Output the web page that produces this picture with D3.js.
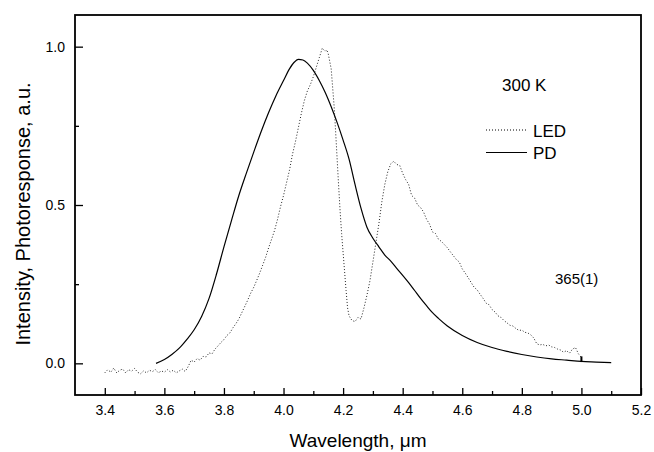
<!DOCTYPE html>
<html>
<head>
<meta charset="utf-8">
<script src="https://cdn.jsdelivr.net/npm/d3@7"></script>
<style>
  body { margin: 0; background: #fff; }
  svg { display: block; font-family: "Liberation Sans", Arial, sans-serif; }
</style>
</head>
<body>
<svg id="chart" width="654" height="452"></svg>
<script>
// LED emission spectrum (dotted), [wavelength um, intensity]
const ledData = [
  [3.40,-0.030],[3.41,-0.020],[3.42,-0.028],[3.43,-0.015],[3.44,-0.030],[3.45,-0.022],
  [3.46,-0.018],[3.47,-0.030],[3.48,-0.020],[3.49,-0.025],[3.50,-0.016],[3.51,-0.028],
  [3.52,-0.033],[3.53,-0.024],[3.54,-0.030],[3.55,-0.022],[3.56,-0.026],[3.57,-0.020],
  [3.58,-0.030],[3.59,-0.024],[3.60,-0.028],[3.61,-0.020],[3.62,-0.027],[3.63,-0.022],
  [3.64,-0.030],[3.65,-0.024],[3.66,-0.018],[3.67,-0.026],[3.68,-0.010],[3.69,0.010],
  [3.70,0.004],[3.71,0.015],[3.72,0.010],[3.73,0.022],[3.74,0.020],[3.75,0.033],
  [3.76,0.030],[3.77,0.045],[3.78,0.055],[3.79,0.066],[3.80,0.075],[3.81,0.088],
  [3.82,0.096],[3.83,0.112],[3.84,0.125],[3.85,0.140],[3.86,0.160],[3.87,0.180],
  [3.88,0.200],[3.89,0.222],[3.90,0.240],[3.91,0.262],[3.92,0.285],[3.93,0.310],
  [3.94,0.335],[3.95,0.365],[3.96,0.392],[3.97,0.420],[3.98,0.455],[3.99,0.495],
  [4.00,0.530],[4.01,0.570],[4.02,0.610],[4.03,0.660],[4.04,0.700],[4.05,0.745],
  [4.06,0.790],[4.07,0.830],[4.08,0.860],[4.09,0.880],[4.10,0.905],[4.11,0.935],
  [4.12,0.965],[4.13,0.995],[4.14,0.985],[4.145,0.990],[4.15,0.978],[4.16,0.930],
  [4.165,0.870],[4.17,0.810],[4.175,0.730],[4.18,0.645],[4.185,0.560],[4.19,0.480],
  [4.195,0.410],[4.20,0.350],[4.205,0.290],[4.21,0.230],[4.215,0.175],[4.22,0.150],
  [4.23,0.135],[4.24,0.132],[4.25,0.145],[4.26,0.140],[4.27,0.175],[4.28,0.215],
  [4.29,0.260],[4.30,0.320],[4.31,0.380],[4.32,0.440],[4.33,0.510],[4.34,0.565],
  [4.35,0.605],[4.36,0.630],[4.37,0.638],[4.38,0.628],[4.39,0.625],[4.40,0.600],
  [4.41,0.580],[4.42,0.565],[4.43,0.530],[4.44,0.522],[4.45,0.500],[4.46,0.492],
  [4.47,0.478],[4.48,0.455],[4.49,0.440],[4.50,0.415],[4.51,0.410],[4.52,0.392],
  [4.53,0.385],[4.54,0.375],[4.55,0.365],[4.56,0.352],[4.57,0.340],[4.58,0.328],
  [4.59,0.320],[4.60,0.298],[4.61,0.285],[4.62,0.270],[4.63,0.255],[4.64,0.240],
  [4.65,0.232],[4.66,0.218],[4.67,0.205],[4.68,0.190],[4.69,0.185],[4.70,0.170],
  [4.71,0.162],[4.72,0.150],[4.73,0.145],[4.74,0.135],[4.75,0.128],[4.76,0.120],
  [4.77,0.118],[4.78,0.110],[4.79,0.104],[4.80,0.105],[4.81,0.098],[4.82,0.096],
  [4.83,0.090],[4.84,0.080],[4.85,0.062],[4.86,0.058],[4.87,0.060],[4.88,0.055],
  [4.89,0.058],[4.90,0.052],[4.91,0.050],[4.92,0.045],[4.93,0.042],[4.94,0.035],
  [4.95,0.040],[4.96,0.032],[4.97,0.045],[4.98,0.050],[4.99,0.030],[5.00,0.018]
];

// Photodiode response (solid)
const pdData = [
  [3.572,0.000],[3.60,0.012],[3.625,0.028],[3.65,0.048],[3.675,0.075],[3.70,0.106],
  [3.725,0.148],[3.75,0.205],[3.775,0.282],[3.80,0.368],[3.825,0.450],[3.85,0.530],
  [3.875,0.600],[3.90,0.667],[3.925,0.732],[3.95,0.792],[3.975,0.846],[4.00,0.893],
  [4.02,0.930],[4.035,0.950],[4.05,0.960],[4.065,0.958],[4.08,0.948],[4.10,0.925],
  [4.12,0.893],[4.14,0.855],[4.16,0.810],[4.18,0.760],[4.20,0.705],[4.22,0.645],
  [4.24,0.565],[4.26,0.490],[4.28,0.430],[4.30,0.395],[4.32,0.368],[4.34,0.342],
  [4.36,0.323],[4.38,0.300],[4.40,0.278],[4.42,0.255],[4.44,0.230],[4.46,0.205],
  [4.48,0.182],[4.50,0.160],[4.52,0.142],[4.55,0.118],[4.60,0.088],[4.65,0.066],
  [4.70,0.050],[4.75,0.038],[4.80,0.028],[4.85,0.020],[4.90,0.014],[4.95,0.010],
  [5.00,0.006],[5.05,0.004],[5.10,0.002]
];

// short solid end mark of the LED trace: [x, y0, y1]
const ledEndMark = [5.0, 0.004, 0.022];

const xDomain = [3.3, 5.2];
const yDomain = [-0.1, 1.1];
const xMajor = [3.4, 3.6, 3.8, 4.0, 4.2, 4.4, 4.6, 4.8, 5.0, 5.2];
const xMinor = [3.5, 3.7, 3.9, 4.1, 4.3, 4.5, 4.7, 4.9, 5.1];
const yMajor = [0.0, 0.5, 1.0];
const yMinor = [0.25, 0.75];
const seriesLabels = ["LED", "PD"];
const tempLabel = "300 K";
const sampleLabel = "365(1)";

const svg = d3.select("#chart");
const margin = { top: 15, right: 13, bottom: 57, left: 75 };
const W = 654, H = 452;
const innerW = W - margin.left - margin.right;
const innerH = H - margin.top - margin.bottom;
const g = svg.append("g").attr("transform", `translate(${margin.left}, ${margin.top})`);

const x = d3.scaleLinear().domain(xDomain).range([0, innerW]);
const y = d3.scaleLinear().domain(yDomain).range([innerH, 0]);

// axes with inward ticks
const styleAxis = sel => {
  sel.select(".domain").remove();
  sel.selectAll("line").attr("stroke", "#000").attr("stroke-width", 1.3);
  sel.selectAll("text").attr("fill", "#000").style("font-size", "14px")
    .style("font-family", "'Liberation Sans', Arial, sans-serif");
};

g.append("g").attr("transform", `translate(0, ${innerH})`)
  .call(d3.axisBottom(x).tickValues(xMajor).tickSize(-7).tickPadding(10).tickFormat(d3.format(".1f")))
  .call(styleAxis);
g.append("g").attr("transform", `translate(0, ${innerH})`)
  .call(d3.axisBottom(x).tickValues(xMinor).tickSize(-4).tickFormat(""))
  .call(styleAxis);
g.append("g")
  .call(d3.axisLeft(y).tickValues(yMajor).tickSize(-8).tickPadding(10).tickFormat(d3.format(".1f")))
  .call(styleAxis);
g.append("g")
  .call(d3.axisLeft(y).tickValues(yMinor).tickSize(-4).tickFormat(""))
  .call(styleAxis);

// frame
g.append("rect")
  .attr("x", 0).attr("y", 0).attr("width", innerW).attr("height", innerH)
  .attr("fill", "none").attr("stroke", "#000").attr("stroke-width", 1.8);

const line = d3.line().x(d => x(d[0])).y(d => y(d[1]));
const smoothLine = d3.line().curve(d3.curveMonotoneX).x(d => x(d[0])).y(d => y(d[1]));

g.append("path").datum(pdData)
  .attr("d", smoothLine)
  .attr("fill", "none").attr("stroke", "#000").attr("stroke-width", 1.2);

g.append("path").datum(ledData)
  .attr("d", line)
  .attr("fill", "none").attr("stroke", "#222").attr("stroke-width", 1)
  .attr("stroke-dasharray", "1,2");

g.append("line")
  .attr("x1", x(ledEndMark[0])).attr("x2", x(ledEndMark[0]))
  .attr("y1", y(ledEndMark[1])).attr("y2", y(ledEndMark[2]))
  .attr("stroke", "#000").attr("stroke-width", 2);

// axis titles
svg.append("text")
  .attr("x", margin.left + innerW / 2).attr("y", 447)
  .attr("text-anchor", "middle").style("font-size", "19px")
  .text("Wavelength, μm");
svg.append("text")
  .attr("transform", "translate(30, 214) rotate(-90)")
  .attr("text-anchor", "middle").style("font-size", "20px")
  .text("Intensity, Photoresponse, a.u.");

// annotations and legend
svg.append("text").attr("x", 502).attr("y", 91).style("font-size", "17px").text(tempLabel);

const legend = svg.append("g").attr("transform", "translate(486, 130)");
seriesLabels.forEach((label, i) => {
  const row = legend.append("g").attr("transform", `translate(0, ${i * 22.5})`);
  row.append("line")
    .attr("x1", 0).attr("x2", 41).attr("y1", 0).attr("y2", 0)
    .attr("stroke", "#000").attr("stroke-width", i === 0 ? 1 : 1.2)
    .attr("stroke-dasharray", i === 0 ? "1,2" : null);
  row.append("text").attr("x", 47).attr("y", 6.5).style("font-size", "17px").text(label);
});

svg.append("text").attr("x", 555).attr("y", 284).style("font-size", "15px").text(sampleLabel);
</script>
</body>
</html>
